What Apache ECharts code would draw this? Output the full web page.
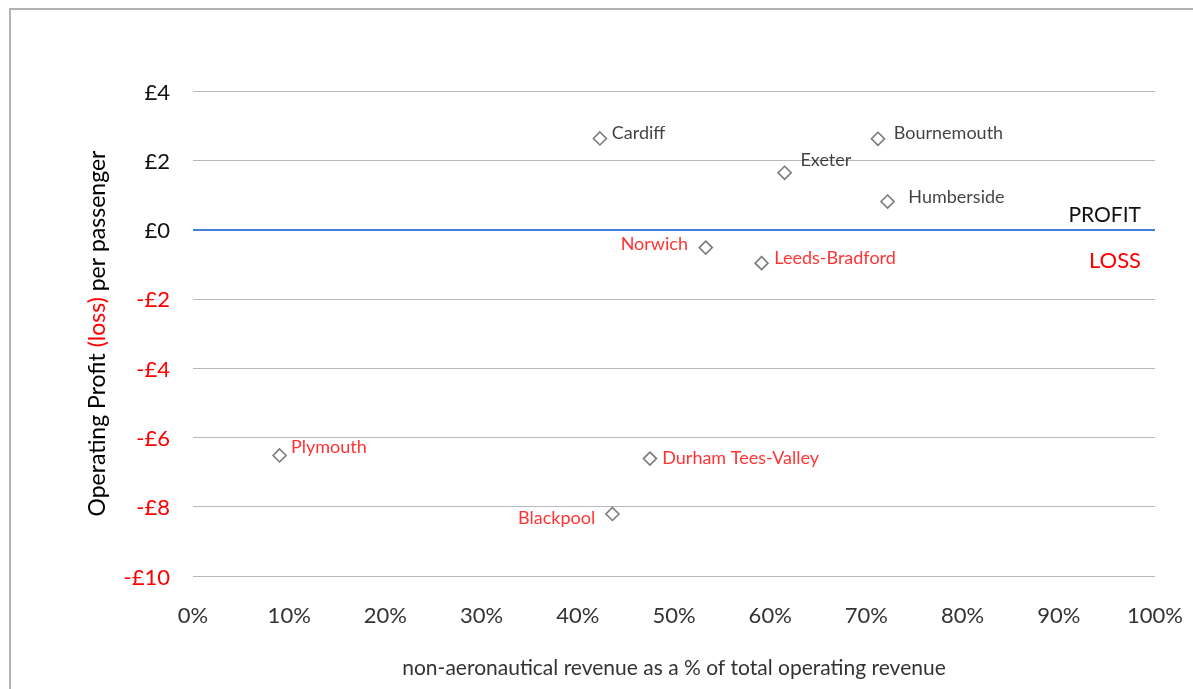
<!DOCTYPE html>
<html>
<head>
<meta charset="utf-8">
<script src="https://cdn.jsdelivr.net/npm/echarts@6/dist/echarts.min.js"></script>
<style>
html,body{margin:0;padding:0;background:#fff;}
#frame{position:absolute;left:9px;top:8px;width:1184px;height:681px;border-left:2px solid #b3b3b3;border-top:2px solid #b3b3b3;box-sizing:border-box;}
#chart{position:absolute;left:0;top:0;width:1193px;height:689px;}
</style>
</head>
<body>
<div id="frame"></div>
<div id="chart"></div>
<script>
// Data
var airports = ['Cardiff','Bournemouth','Exeter','Humberside','Norwich','Leeds-Bradford','Plymouth','Durham Tees-Valley','Blackpool'];
var nonAeroShare = [42.3, 71.2, 61.5, 72.2, 53.3, 59.1, 9.0, 47.5, 43.6];       // % of total operating revenue
var profitPerPax = [2.63, 2.62, 1.64, 0.81, -0.52, -0.97, -6.52, -6.61, -8.21];  // £ per passenger
var yTicks = [-10, -8, -6, -4, -2, 0, 2, 4];
var xTicks = [0,10,20,30,40,50,60,70,80,90,100];

// label placement (style only)
var labelStyle = {
  'Cardiff':            {side:'right', offset:[4.5,-5]},
  'Bournemouth':        {side:'right', offset:[8.5,-6]},
  'Exeter':             {side:'right', offset:[8.5,-13]},
  'Humberside':         {side:'right', offset:[13.5,-4]},
  'Norwich':            {side:'left',  offset:[-10.5,-3]},
  'Leeds-Bradford':     {side:'right', offset:[5.5,-5]},
  'Plymouth':           {side:'right', offset:[4,-8]},
  'Durham Tees-Valley': {side:'right', offset:[5,0]},
  'Blackpool':          {side:'left',  offset:[-10,4]}
};

var FONT = 'Lato, "Open Sans", sans-serif';
var RED = '#ff0000';
var DARK = '#111111';
var GRID = '#b8b8b8';
var ZERO = '#3d7dd8';

var points = airports.map(function(n, i){
  var ls = labelStyle[n];
  return {
    name: n,
    value: [nonAeroShare[i], profitPerPax[i]],
    label: {
      show: true,
      formatter: n,
      position: ls.side,
      distance: 0,
      offset: ls.offset,
      color: profitPerPax[i] < 0 ? RED : DARK,
      fontFamily: FONT,
      fontSize: 18
    }
  };
});

var splitColors = yTicks.map(function(t){ return t === 0 ? ZERO : GRID; });

var chart = echarts.init(document.getElementById('chart'), null, {renderer:'canvas'});
chart.setOption({
  animation: false,
  backgroundColor: 'transparent',
  grid: {left: 193, right: 38, top: 91, bottom: 113},
  xAxis: {
    type: 'value',
    min: xTicks[0], max: xTicks[xTicks.length-1], interval: 10,
    axisLine: {show: false, onZero: false},
    axisTick: {show: false},
    splitLine: {show: false},
    axisLabel: {formatter: '{value}%', color: '#333', fontFamily: FONT, fontSize: 22, margin: 29},
    name: 'non-aeronautical revenue as a % of total operating revenue',
    nameLocation: 'middle',
    nameGap: 82,
    nameTextStyle: {color: '#333', fontFamily: FONT, fontSize: 21}
  },
  yAxis: {
    type: 'value',
    min: yTicks[0], max: yTicks[yTicks.length-1], interval: 2,
    axisLine: {show: false, onZero: false},
    axisTick: {show: false},
    splitLine: {show: true, showMinLine: true, showMaxLine: true, lineStyle: {color: splitColors, width: 1}},
    axisLabel: {
      margin: 23,
      fontFamily: FONT, fontSize: 22,
      formatter: function(v){ return v < 0 ? '{n|-£' + Math.abs(v) + '}' : '{p|£' + v + '}'; },
      rich: {
        n: {color: RED, fontFamily: FONT, fontSize: 22, padding: [3,0,0,0]},
        p: {color: DARK, fontFamily: FONT, fontSize: 22, padding: [3,0,0,0]}
      }
    },
    name: '{a|Operating Profit }{b|(loss)}{a| per passenger}',
    nameLocation: 'middle',
    nameRotate: 90,
    nameGap: 84,
    nameTextStyle: {
      rich: {
        a: {color: '#000', fontFamily: FONT, fontSize: 23},
        b: {color: RED, fontFamily: FONT, fontSize: 23}
      }
    }
  },
  series: [{
    type: 'scatter',
    symbol: 'diamond',
    symbolSize: 13,
    itemStyle: {color: '#fff', borderColor: '#595959', borderWidth: 1.6},
    data: points,
    z: 3,
    markLine: {
      silent: true,
      symbol: 'none',
      z: 10,
      lineStyle: {color: ZERO, width: 1.5, type: 'solid', opacity: 1},
      emphasis: {disabled: true},
      data: [
        {yAxis: 0,
         label: {show: true, position: 'insideEndTop', formatter: 'PROFIT', color: DARK, fontFamily: FONT, fontSize: 21, distance: [14, 4]}},
        {yAxis: 0,
         label: {show: true, position: 'insideEndBottom', formatter: 'LOSS', color: RED, fontFamily: FONT, fontSize: 22, distance: [14, 20]}}
      ]
    }
  }]
});
</script>
</body>
</html>
